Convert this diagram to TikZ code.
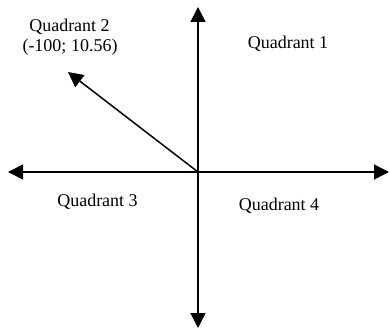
\documentclass[tikz,border=0pt]{standalone}
\usepackage{fontspec}
\setmainfont{Liberation Serif}
\usetikzlibrary{arrows.meta}
\begin{document}
\begin{tikzpicture}[>={Triangle[length=15pt,width=15pt]}, x=1pt, y=1pt, line width=1.5pt,
  lbl/.style={anchor=base, inner sep=0pt, font=\fontsize{18}{21}\selectfont}]
\useasboundingbox (0,0) rectangle (390,332);
\coordinate (o) at (198,160);
\coordinate (top) at (198,325);
\coordinate (bottom) at (198,4);
\coordinate (left) at (8,160);
\coordinate (right) at (389,160);
\coordinate (v) at (68,260);
\node[lbl] (q2) at (69.5,300.5) {Quadrant 2};
\node[lbl] (val) at (70,280.5) {(-100; 10.56)};
\node[lbl] (q1) at (288,283) {Quadrant 1};
\node[lbl] (q3) at (97.5,125) {Quadrant 3};
\node[lbl] (q4) at (279,122) {Quadrant 4};
\draw[<->] (left) -- (right);
\draw[<->] (bottom) -- (top);
\draw[->] (o) -- (v);
\end{tikzpicture}
\end{document}
